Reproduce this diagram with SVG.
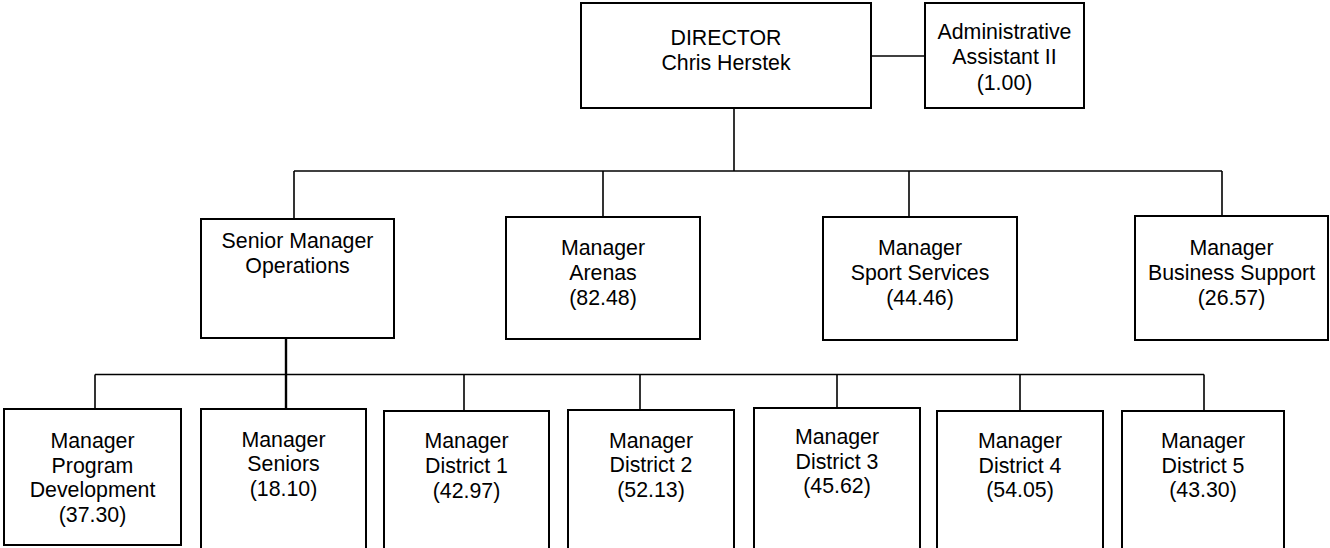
<svg xmlns="http://www.w3.org/2000/svg" width="1330" height="548" viewBox="0 0 1330 548">
<style>
.box{fill:#fff;stroke:#000;stroke-width:2}
.c{fill:none;stroke:#000;stroke-width:1.6}
.t{font-family:"Liberation Sans",Arial,sans-serif;font-size:21.33px;fill:#000;text-anchor:middle}
</style>
<rect width="1330" height="548" fill="#fff"/>
<g id="connectors">
<line class="c" x1="734" y1="108" x2="734" y2="171"/>
<line class="c" x1="871" y1="56" x2="925" y2="56"/>
<line class="c" x1="294" y1="171" x2="1222" y2="171"/>
<line class="c" x1="294" y1="171" x2="294" y2="219"/>
<line class="c" x1="603" y1="171" x2="603" y2="217"/>
<line class="c" x1="909" y1="171" x2="909" y2="217"/>
<line class="c" x1="1222" y1="171" x2="1222" y2="216"/>
<line class="c" x1="286" y1="338" x2="286" y2="409" style="stroke-width:2.4"/>
<line class="c" x1="95" y1="374.5" x2="1204" y2="374.5"/>
<line class="c" x1="95" y1="374.5" x2="95" y2="409"/>
<line class="c" x1="464" y1="374.5" x2="464" y2="411"/>
<line class="c" x1="640" y1="374.5" x2="640" y2="410"/>
<line class="c" x1="837" y1="374.5" x2="837" y2="408"/>
<line class="c" x1="1020" y1="374.5" x2="1020" y2="411"/>
<line class="c" x1="1204" y1="374.5" x2="1204" y2="411"/>
</g>
<g id="director">
<rect class="box" x="581" y="3" width="290" height="105"/>
<text class="t" x="726" y="45">DIRECTOR</text>
<text class="t" x="726" y="70">Chris Herstek</text>
</g>
<g id="admin">
<rect class="box" x="925" y="3" width="159" height="105"/>
<text class="t" x="1004.5" y="38.5">Administrative</text>
<text class="t" x="1004.5" y="64">Assistant II</text>
<text class="t" x="1004.5" y="89.5">(1.00)</text>
</g>
<g id="senior-ops">
<rect class="box" x="201" y="219" width="193" height="119"/>
<text class="t" x="297.5" y="248">Senior Manager</text>
<text class="t" x="297.5" y="273">Operations</text>
</g>
<g id="arenas">
<rect class="box" x="506" y="217" width="194" height="122"/>
<text class="t" x="603" y="255">Manager</text>
<text class="t" x="603" y="279.5">Arenas</text>
<text class="t" x="603" y="304.5">(82.48)</text>
</g>
<g id="sport">
<rect class="box" x="823" y="217" width="194" height="123"/>
<text class="t" x="920" y="255">Manager</text>
<text class="t" x="920" y="279.5">Sport Services</text>
<text class="t" x="920" y="304.5">(44.46)</text>
</g>
<g id="business">
<rect class="box" x="1135" y="216" width="193" height="124"/>
<text class="t" x="1231.5" y="255">Manager</text>
<text class="t" x="1231.5" y="279.5">Business Support</text>
<text class="t" x="1231.5" y="304.5">(26.57)</text>
</g>
<g id="program-dev">
<rect class="box" x="4" y="409" width="177" height="136"/>
<text class="t" x="92.5" y="448">Manager</text>
<text class="t" x="92.5" y="472.5">Program</text>
<text class="t" x="92.5" y="497">Development</text>
<text class="t" x="92.5" y="522">(37.30)</text>
</g>
<g id="seniors">
<rect class="box" x="201" y="409" width="165" height="160"/>
<text class="t" x="283.5" y="446.5">Manager</text>
<text class="t" x="283.5" y="471">Seniors</text>
<text class="t" x="283.5" y="496">(18.10)</text>
</g>
<g id="district1">
<rect class="box" x="384" y="411" width="165" height="160"/>
<text class="t" x="466.5" y="448">Manager</text>
<text class="t" x="466.5" y="472.5">District 1</text>
<text class="t" x="466.5" y="497.5">(42.97)</text>
</g>
<g id="district2">
<rect class="box" x="568" y="410" width="166" height="160"/>
<text class="t" x="651" y="448">Manager</text>
<text class="t" x="651" y="472">District 2</text>
<text class="t" x="651" y="496.5">(52.13)</text>
</g>
<g id="district3">
<rect class="box" x="754" y="408" width="166" height="160"/>
<text class="t" x="837" y="444">Manager</text>
<text class="t" x="837" y="468.5">District 3</text>
<text class="t" x="837" y="493">(45.62)</text>
</g>
<g id="district4">
<rect class="box" x="937" y="411" width="166" height="160"/>
<text class="t" x="1020" y="448">Manager</text>
<text class="t" x="1020" y="472.5">District 4</text>
<text class="t" x="1020" y="497">(54.05)</text>
</g>
<g id="district5">
<rect class="box" x="1122" y="411" width="162" height="160"/>
<text class="t" x="1203" y="448">Manager</text>
<text class="t" x="1203" y="472.5">District 5</text>
<text class="t" x="1203" y="497">(43.30)</text>
</g>
</svg>
